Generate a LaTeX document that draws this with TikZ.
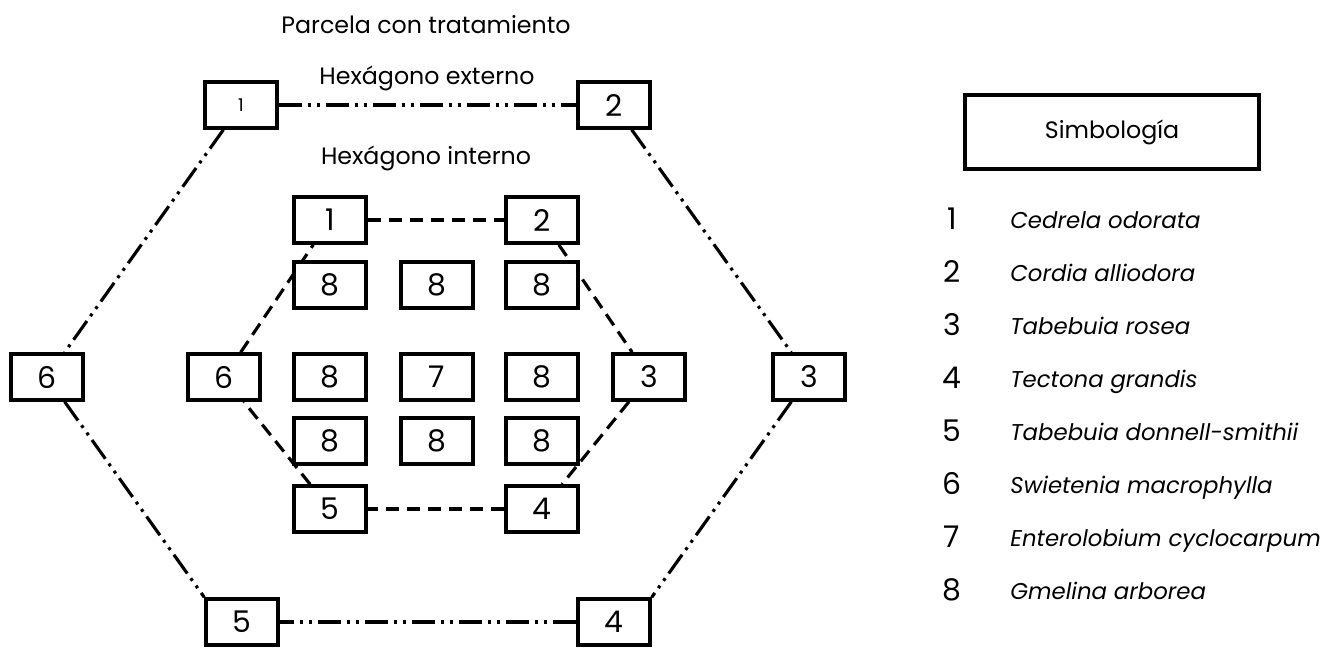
\documentclass[tikz,border=0pt]{standalone}
\usepackage{fontspec}
\setmainfont{Poppins}
\usetikzlibrary{shapes,arrows}
\pgfdeclarelayer{back}
\pgfsetlayers{back,main}
\tikzstyle{block} = [rectangle, draw, fill=white, line width=2pt,
    minimum width=1.44cm, minimum height=0.92cm, inner sep=0pt,
    font=\fontsize{17}{19}\selectfont]
\tikzstyle{outline} = [draw, line width=1.8pt,
    dash pattern=on 0.46cm off 0.12cm on 0.06cm off 0.12cm on 0.06cm off 0.12cm]
\tikzstyle{inline} = [draw, line width=1.8pt, dash pattern=on 0.27cm off 0.15cm]
\tikzstyle{title} = [font=\fontsize{13.5}{15}\selectfont]
\tikzstyle{num} = [font=\fontsize{17}{19}\selectfont, text height=12pt, text depth=3pt]
\tikzstyle{especie} = [anchor=west, font=\fontsize{13}{15}\selectfont\itshape,
    text height=10pt, text depth=3pt, inner sep=0pt]

\begin{document}
\begin{tikzpicture}[x=0.02cm, y=-0.02cm]

    \useasboundingbox (0,0) rectangle (1329,647);

    % Place nodes
    \node [title] (T) at (426,25) {Parcela con tratamiento};
    \node [title] (Text) at (427,78) {Hexágono externo};
    \node [title] (Tint) at (426,158) {Hexágono interno};

    % outer hexagon
    \node [block, font=\fontsize{10}{11}\selectfont] (O1) at (241,105) {1};
    \node [block] (O2) at (614,105) {2};
    \node [block] (O3) at (809,377) {3};
    \node [block] (O4) at (614,622) {4};
    \node [block] (O5) at (242,622) {5};
    \node [block] (O6) at (47,377) {6};

    % inner hexagon
    \node [block] (I1) at (330,220) {1};
    \node [block] (I2) at (542,220) {2};
    \node [block] (I3) at (649,377) {3};
    \node [block] (I4) at (542,509) {4};
    \node [block] (I5) at (330,509) {5};
    \node [block] (I6) at (224,377) {6};

    % center
    \node [block] (G1) at (330,285) {8};
    \node [block] (G2) at (437,285) {8};
    \node [block] (G3) at (542,285) {8};
    \node [block] (G4) at (330,377) {8};
    \node [block] (C7) at (437,377) {7};
    \node [block] (G6) at (542,377) {8};
    \node [block] (G7) at (330,441) {8};
    \node [block] (G8) at (437,441) {8};
    \node [block] (G9) at (542,441) {8};

    % legend
    \node [rectangle, draw, line width=2pt, minimum width=5.88cm, minimum height=1.48cm,
        title] (S) at (1112,132) {Simbología};
    \foreach \n/\name in {1/Cedrela odorata, 2/Cordia alliodora, 3/Tabebuia rosea,
        4/Tectona grandis, 5/Tabebuia donnell-smithii, 6/Swietenia macrophylla,
        7/Enterolobium cyclocarpum, 8/Gmelina arborea} {
        \node [num] (n\n) at (952,169+53*\n) {\n};
        \node [especie] (e\n) at (1010,169+53*\n) {\name};
    }

    % Draw edges
    \begin{pgfonlayer}{back}
    \path [outline] (O1) -- (O2);
    \path [outline] (O2) -- (O3);
    \path [outline] (O3) -- (O4.north east);
    \path [outline] (O4) -- (O5);
    \path [outline] (O6) -- (O5.north west);
    \path [outline] (O1) -- (O6);

    \path [inline] (I1) -- (I2);
    \path [inline] (I2) -- (I3);
    \path [inline] (I3) -- (I4);
    \path [inline] (I4) -- (I5);
    \path [inline] (I5) -- (I6);
    \path [inline] (I6) -- (I1);
    \end{pgfonlayer}

\end{tikzpicture}
\end{document}
